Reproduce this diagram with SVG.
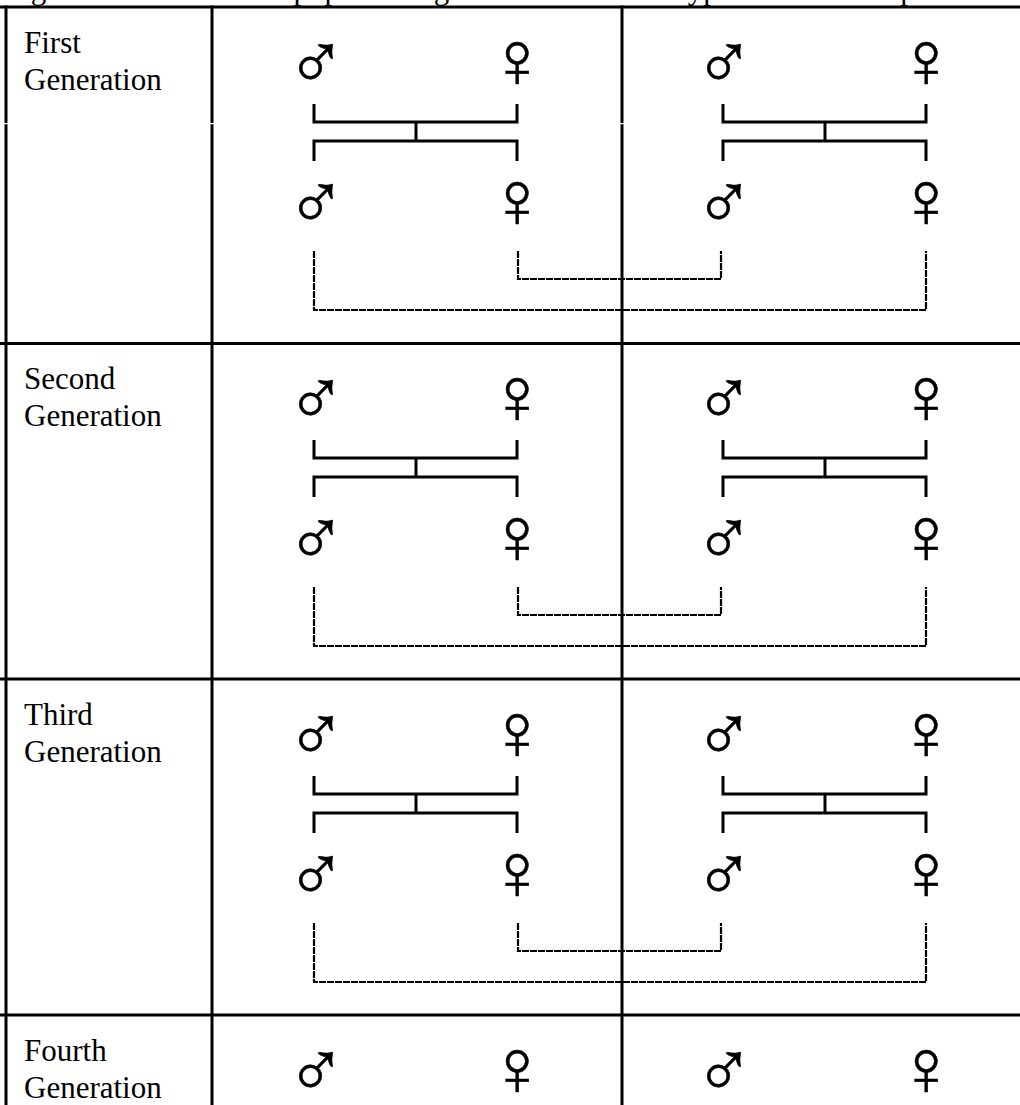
<svg xmlns="http://www.w3.org/2000/svg" width="1020" height="1105" viewBox="0 0 1020 1105">
  <style>
    .label { font-family: "Liberation Serif", "Times New Roman", serif; font-size: 31px; fill: #000; }
    .sym { font-family: "Liberation Sans", Arial, sans-serif; font-size: 80px; fill: #000; stroke: #000; stroke-width: 0.5; text-anchor: middle; }
    .grid { stroke: #000; stroke-width: 3; fill: none; }
    .pair { stroke: #000; stroke-width: 3; fill: none; }
    .cross { stroke: #000; stroke-width: 2.2; fill: none; stroke-dasharray: 7 1; }
  </style>
  <defs>
    <!-- one generation's mating links: pair brackets and cross-lineage dashed lines -->
    <g id="links">
      <path class="pair" d="M314,104 V122 H517 V104 M416,122 V141 M314,161 V141 H517 V161"/>
      <path class="pair" d="M723,104 V122 H926 V104 M825,122 V141 M723,161 V141 H926 V161"/>
      <path class="cross" d="M518,251 V279 H721 V251"/>
      <path class="cross" d="M314,251 V310 H926 V251"/>
    </g>
  </defs>

  <rect width="1020" height="1105" fill="#fff"/>

  <!-- caption, clipped at the top edge -->
  <text class="label" x="5" y="-1">Figure 2: Model of the population growth scenario in hypothetical example.</text>

  <!-- table grid -->
  <g id="grid">
    <path class="grid" d="M0,7 H1020 M0,343.5 H1020 M0,679 H1020 M0,1015 H1020"/>
    <path class="grid" d="M6,5.5 V1105 M212,5.5 V1105 M622,5.5 V1105"/>
    <!-- small breaks in the rules -->
    <rect x="3" y="123" width="6" height="1.2" fill="#fff"/>
    <rect x="209" y="123" width="6" height="1.2" fill="#fff"/>
    <rect x="619" y="123" width="6" height="1.2" fill="#fff"/>
  </g>

  <!-- connectors -->
  <g id="connectors">
    <use href="#links"/>
    <use href="#links" transform="translate(0,336)"/>
    <use href="#links" transform="translate(0,672)"/>
  </g>

  <!-- generation labels -->
  <g id="gen1-label"><text class="label" x="24" y="53">First</text><text class="label" x="24" y="90">Generation</text></g>
  <g id="gen2-label"><text class="label" x="24" y="389">Second</text><text class="label" x="24" y="426">Generation</text></g>
  <g id="gen3-label"><text class="label" x="24" y="725">Third</text><text class="label" x="24" y="762">Generation</text></g>
  <g id="gen4-label"><text class="label" x="24" y="1061">Fourth</text><text class="label" x="24" y="1098">Generation</text></g>

  <!-- generation 1 -->
  <g id="g1-m1"><text class="sym" x="316" y="89">♂</text></g>
  <g id="g1-f1"><text class="sym" x="517" y="86.5">♀</text></g>
  <g id="g1-m2"><text class="sym" x="724" y="89">♂</text></g>
  <g id="g1-f2"><text class="sym" x="926" y="86.5">♀</text></g>
  <g id="g1-m3"><text class="sym" x="316" y="229">♂</text></g>
  <g id="g1-f3"><text class="sym" x="517" y="226.5">♀</text></g>
  <g id="g1-m4"><text class="sym" x="724" y="229">♂</text></g>
  <g id="g1-f4"><text class="sym" x="926" y="226.5">♀</text></g>

  <!-- generation 2 -->
  <g id="g2-m1"><text class="sym" x="316" y="425">♂</text></g>
  <g id="g2-f1"><text class="sym" x="517" y="422.5">♀</text></g>
  <g id="g2-m2"><text class="sym" x="724" y="425">♂</text></g>
  <g id="g2-f2"><text class="sym" x="926" y="422.5">♀</text></g>
  <g id="g2-m3"><text class="sym" x="316" y="565">♂</text></g>
  <g id="g2-f3"><text class="sym" x="517" y="562.5">♀</text></g>
  <g id="g2-m4"><text class="sym" x="724" y="565">♂</text></g>
  <g id="g2-f4"><text class="sym" x="926" y="562.5">♀</text></g>

  <!-- generation 3 -->
  <g id="g3-m1"><text class="sym" x="316" y="761">♂</text></g>
  <g id="g3-f1"><text class="sym" x="517" y="758.5">♀</text></g>
  <g id="g3-m2"><text class="sym" x="724" y="761">♂</text></g>
  <g id="g3-f2"><text class="sym" x="926" y="758.5">♀</text></g>
  <g id="g3-m3"><text class="sym" x="316" y="901">♂</text></g>
  <g id="g3-f3"><text class="sym" x="517" y="898.5">♀</text></g>
  <g id="g3-m4"><text class="sym" x="724" y="901">♂</text></g>
  <g id="g3-f4"><text class="sym" x="926" y="898.5">♀</text></g>

  <!-- generation 4 -->
  <g id="g4-m1"><text class="sym" x="316" y="1097">♂</text></g>
  <g id="g4-f1"><text class="sym" x="517" y="1094.5">♀</text></g>
  <g id="g4-m2"><text class="sym" x="724" y="1097">♂</text></g>
  <g id="g4-f2"><text class="sym" x="926" y="1094.5">♀</text></g>
</svg>
